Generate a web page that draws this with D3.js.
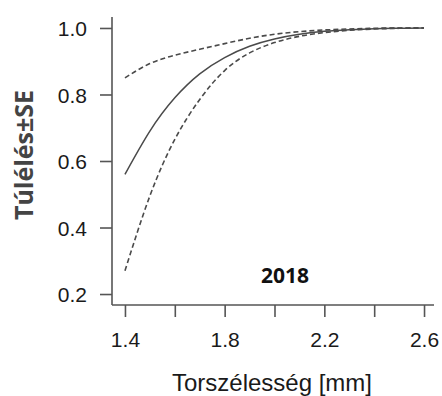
<!DOCTYPE html>
<html>
<head>
<meta charset="utf-8">
<script src="https://cdn.jsdelivr.net/npm/d3@7"></script>
<style>
  body { margin: 0; background: #fff; }
  svg { display: block; }
  .tick text { font-family: 'Liberation Sans', Arial, sans-serif; font-size: 21px; fill: #1a1a1a; }
</style>
</head>
<body>
<div id="chart"></div>
<script>
const W = 442
const H = 396

// torso width [mm]
const widths = [1.4, 1.5, 1.6, 1.7, 1.8, 1.9, 2.0, 2.1, 2.2, 2.3, 2.4, 2.5, 2.6]
// survival estimate and ±SE band
const survival = [0.56, 0.69, 0.79, 0.862, 0.911, 0.945, 0.967, 0.981, 0.99, 0.995, 0.998, 0.999, 1.0]
const upperSE  = [0.85, 0.893, 0.918, 0.936, 0.953, 0.969, 0.981, 0.989, 0.994, 0.997, 0.999, 1.0, 1.0]
const lowerSE  = [0.27, 0.495, 0.665, 0.785, 0.872, 0.925, 0.956, 0.975, 0.986, 0.993, 0.997, 0.999, 1.0]

const xTicks = [1.4, 1.6, 1.8, 2.0, 2.2, 2.4, 2.6]
const xLabelled = [1.4, 1.8, 2.2, 2.6]
const yTicks = [0.2, 0.4, 0.6, 0.8, 1.0]

const yearLabel = '2018'
const xTitle = 'Torszélesség [mm]'
const yTitle = 'Túlélés±SE'

const axisColor = '#555'
const lineColor = '#4a4a4a'

const scaleX = d3.scaleLinear().domain([1.348, 2.64]).range([112, 434])
const scaleY = d3.scaleLinear().domain([0.167, 1.033]).range([305, 17])

const svg = d3.select('#chart')
  .append('svg')
  .attr('width', W)
  .attr('height', H)

// axes
const xAxis = d3.axisBottom(scaleX)
  .tickValues(xTicks)
  .tickSize(12)
  .tickPadding(15)
  .tickFormat(d => xLabelled.some(v => Math.abs(v - d) < 1e-9) ? d3.format('.1f')(d) : '')

const yAxis = d3.axisLeft(scaleY)
  .tickValues(yTicks)
  .tickSize(12)
  .tickPadding(13)
  .tickFormat(d3.format('.1f'))

const gx = svg.append('g')
  .attr('class', 'axis axis--x')
  .attr('transform', `translate(0, ${scaleY.range()[0]})`)
  .call(xAxis)

const gy = svg.append('g')
  .attr('class', 'axis axis--y')
  .attr('transform', `translate(${scaleX.range()[0]}, 0)`)
  .call(yAxis)

svg.selectAll('.axis .domain').remove()

// L-shaped frame
gx.append('line')
  .attr('x1', scaleX.range()[0]).attr('x2', scaleX.range()[1])
  .attr('y1', 0).attr('y2', 0)
  .attr('stroke', axisColor).attr('stroke-width', 1.6)

gy.append('line')
  .attr('x1', 0).attr('x2', 0)
  .attr('y1', scaleY.range()[0]).attr('y2', scaleY.range()[1])
  .attr('stroke', axisColor).attr('stroke-width', 1.6)

svg.selectAll('.tick line')
  .attr('stroke', axisColor)
  .attr('stroke-width', 1.6)

gy.selectAll('.tick text').attr('dy', '0.36em')

// curves
const line = (vals) => d3.line()
  .x((d, i) => scaleX(widths[i]))
  .y(d => scaleY(d))
  .curve(d3.curveNatural)(vals)

const plot = svg.append('g').attr('class', 'curves')

plot.append('path')
  .attr('d', line(upperSE))
  .attr('fill', 'none')
  .attr('stroke', lineColor)
  .attr('stroke-width', 1.6)
  .attr('stroke-dasharray', '5,3')

plot.append('path')
  .attr('d', line(lowerSE))
  .attr('fill', 'none')
  .attr('stroke', lineColor)
  .attr('stroke-width', 1.6)
  .attr('stroke-dasharray', '5,3')

plot.append('path')
  .attr('d', line(survival))
  .attr('fill', 'none')
  .attr('stroke', lineColor)
  .attr('stroke-width', 1.5)

// labels
svg.append('text')
  .attr('x', 285)
  .attr('y', 283)
  .attr('text-anchor', 'middle')
  .style('font-family', "'Open Sans', sans-serif")
  .style('font-weight', 'bold')
  .style('font-size', '21px')
  .style('fill', '#111')
  .text(yearLabel)

svg.append('text')
  .attr('x', 272)
  .attr('y', 391)
  .attr('text-anchor', 'middle')
  .style('font-family', "'Liberation Sans', Arial, sans-serif")
  .style('font-size', '24px')
  .style('fill', '#1a1a1a')
  .text(xTitle)

svg.append('text')
  .attr('transform', 'translate(33, 155) rotate(-90)')
  .attr('text-anchor', 'middle')
  .style('font-family', "'Open Sans', sans-serif")
  .style('font-weight', 'bold')
  .style('font-size', '25px')
  .style('fill', '#444')
  .text(yTitle)
</script>
</body>
</html>
